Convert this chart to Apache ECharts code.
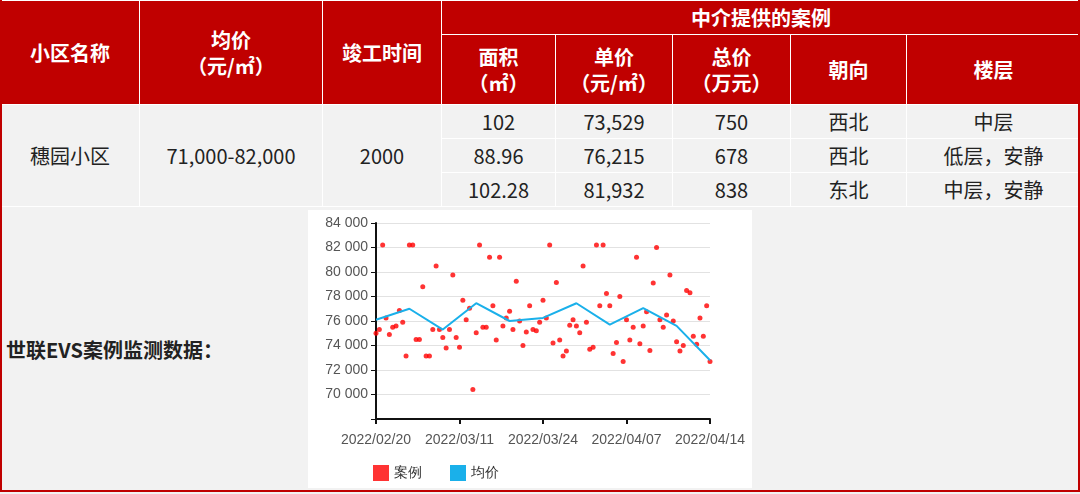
<!DOCTYPE html>
<html><head><meta charset="utf-8">
<script src="https://cdn.jsdelivr.net/npm/echarts@6/dist/echarts.min.js"></script>
<style>
body{margin:0;width:1080px;height:494px;background:#fff;font-family:"Noto Sans CJK SC","Noto Sans",sans-serif;overflow:hidden}
#wrap{position:relative;width:1080px;height:494px;background:#f2f2f2}
table{position:absolute;left:0;top:0;width:1080px;border-collapse:collapse;table-layout:fixed}
th{background:#c00000;color:#fff;font-size:20px;font-weight:bold;border:1px solid #fff;line-height:26px;padding:0}
td{background:#f2f2f2;color:#222;font-size:20px;text-align:center;border:1px solid #fff;height:33px;padding:0}
#label{position:absolute;left:6px;top:335px;font-size:20px;font-weight:bold;color:#222}
#chart{position:absolute;left:308px;top:210px;width:444px;height:278px;background:#fff}
#edge{position:absolute;left:0;top:0;width:1076px;height:490px;border:2px solid #c00000;border-top:none;pointer-events:none}
</style></head>
<body><div id="wrap">
<table>
<colgroup><col style="width:139px"><col style="width:183px"><col style="width:119px"><col style="width:114px"><col style="width:117px"><col style="width:118px"><col style="width:116px"><col style="width:174px"></colgroup>
<tr style="height:34px"><th rowspan="2">小区名称</th><th rowspan="2">均价<br>（元/㎡）</th><th rowspan="2">竣工时间</th><th colspan="5">中介提供的案例</th></tr>
<tr style="height:70px"><th>面积<br>（㎡）</th><th>单价<br>（元/㎡）</th><th>总价<br>（万元）</th><th>朝向</th><th>楼层</th></tr>
<tr><td rowspan="3">穗园小区</td><td rowspan="3">71,000-82,000</td><td rowspan="3">2000</td><td>102</td><td>73,529</td><td>750</td><td>西北</td><td>中层</td></tr>
<tr><td>88.96</td><td>76,215</td><td>678</td><td>西北</td><td>低层，安静</td></tr>
<tr><td>102.28</td><td>81,932</td><td>838</td><td>东北</td><td>中层，安静</td></tr>
</table>
<div id="label">世联EVS案例监测数据：</div>
<div id="chart"></div>
<div id="edge"></div>
</div>
<script>
var dateLabels = ["2022/02/20", "2022/03/11", "2022/03/24", "2022/04/07", "2022/04/14"];
var caseValues = [75000, 75300, 82200, 76250, 74900, 75500, 75600, 76850, 75900, 73150,
    82200, 82200, 74500, 74500, 78800, 73150, 73150, 75300, 80500, 75300,
    74650, 73800, 75300, 79750, 74650, 73850, 77700, 76100, 77050, 70400,
    75050, 82200, 75500, 75500, 81200, 77250, 74450, 81200, 75600, 76250,
    76800, 75300, 79250, 76000, 74000, 75100, 77250, 75300, 75200, 75900,
    77700, 76250, 82200, 74200, 79150, 74450, 73150, 73550, 75650, 76100,
    75600, 75050, 80500, 75900, 73700, 73850, 82200, 77250, 82200, 78250,
    77250, 73350, 74250, 78000, 72700, 76100, 74450, 75500, 81200, 74150,
    75600, 76750, 73600, 79100, 82000, 76100, 75500, 76500, 79750, 76000,
    74300, 73550, 74000, 78500, 78300, 74750, 74100, 76250, 74750, 77250, 72700];
var avgValues = [76100, 77000, 75300, 77450, 76000, 76250, 77450, 75700, 77050, 75600, 72800];

var chart = echarts.init(document.getElementById("chart"));
var n = caseValues.length - 1;
chart.setOption({
    animation: false,
    grid: { left: 68, right: 42, top: 13, bottom: 69 },
    legend: {
        left: 60, bottom: 2, itemGap: 28, itemWidth: 16, itemHeight: 16,
        textStyle: { color: "#333", fontSize: 14 },
        data: [{ name: "案例", icon: "rect" }, { name: "均价", icon: "rect" }]
    },
    xAxis: {
        type: "value", min: 0, max: n, interval: n / 4,
        axisLine: { lineStyle: { color: "#111", width: 2 } },
        axisTick: { show: true, length: 5, lineStyle: { color: "#111", width: 2 } },
        axisLabel: {
            color: "#555", fontSize: 14, margin: 14, showMaxLabel: true,
            formatter: function (v) { return dateLabels[Math.round(v / (n / 4))]; }
        },
        splitLine: { show: false }
    },
    yAxis: {
        type: "value", min: 68000, max: 84000, interval: 2000,
        axisLine: { show: true, lineStyle: { color: "#111", width: 2 } },
        axisTick: { show: true, length: 5, lineStyle: { color: "#111" } },
        axisLabel: {
            color: "#555", fontSize: 14,
            formatter: function (v) { return v === 68000 ? "" : String(v).replace(/(\d\d)(\d{3})$/, "$1 $2"); }
        },
        splitLine: { lineStyle: { color: "#e2e2e2" } }
    },
    series: [{
        name: "案例", type: "scatter", symbolSize: 5,
        itemStyle: { color: "#ff0000" },
        data: caseValues.map(function (v, i) { return [i, v]; })
    }, {
        name: "均价", type: "line", symbol: "none",
        lineStyle: { color: "#1ab0ea", width: 2 }, itemStyle: { color: "#1ab0ea" },
        data: avgValues.map(function (v, i) { return [i * 10, v]; })
    }]
});
</script>
</body></html>
